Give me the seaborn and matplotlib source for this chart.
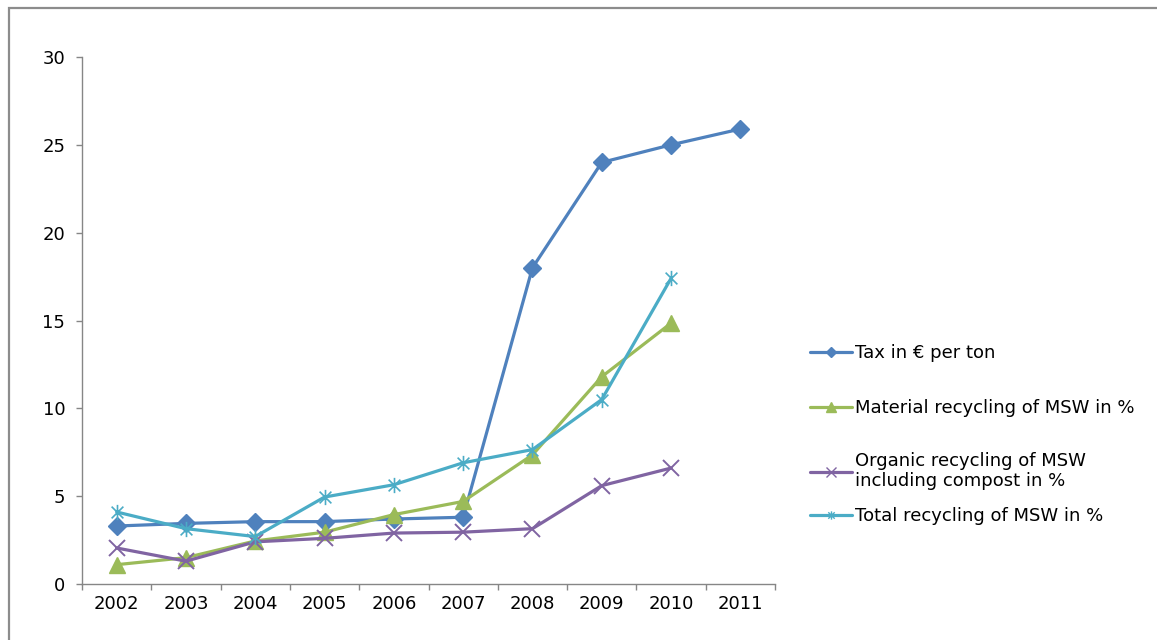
import numpy as np
import pandas as pd
import matplotlib
matplotlib.use("Agg")
import matplotlib.pyplot as plt
import seaborn as sns
from matplotlib.path import Path
from matplotlib.patches import Rectangle
from matplotlib.lines import Line2D

# Data
years = ["2002", "2003", "2004", "2005", "2006", "2007", "2008", "2009", "2010", "2011"]
tax = [3.3, 3.45, 3.55, 3.55, 3.7, 3.8, 18.0, 24.0, 25.0, 25.9]
material = [1.1, 1.5, 2.45, 2.95, 3.95, 4.7, 7.35, 11.8, 14.85]
organic = [2.05, 1.3, 2.4, 2.6, 2.9, 2.95, 3.15, 5.6, 6.6]
total = [4.1, 3.15, 2.7, 4.95, 5.65, 6.9, 7.65, 10.5, 17.4]

labels = [
    "Tax in € per ton",
    "Material recycling of MSW in %",
    "Organic recycling of MSW\nincluding compost in %",
    "Total recycling of MSW in %",
]
colors = ["#4F81BD", "#9BBB59", "#8064A2", "#4BACC6"]

# Star marker: an X crossed by a vertical stroke
star = Path(
    [(-1, -1), (1, 1), (-1, 1), (1, -1), (0, -1.3), (0, 1.3)],
    [Path.MOVETO, Path.LINETO, Path.MOVETO, Path.LINETO, Path.MOVETO, Path.LINETO],
)

sns.set_theme(style="white")
plt.rcParams["font.family"] = ["DejaVu Sans"]

fig = plt.figure(figsize=(11.57, 6.4), dpi=100)
ax = fig.add_axes([82 / 1157, 1 - 584 / 640, (775 - 82) / 1157, (584 - 57) / 640])

series = [
    (tax, "D", 9, 1.0),
    (material, "^", 11, 1.0),
    (organic, "x", 11, 1.4),
    (total, star, 11, 1.2),
]

lw = 2.3
for (vals, mk, ms, mew), col in zip(series, colors):
    df = pd.DataFrame({"x": np.arange(len(vals)), "y": vals})
    sns.lineplot(
        data=df, x="x", y="y", ax=ax, color=col, linewidth=lw,
        marker=mk, markersize=ms, markeredgewidth=mew,
        markeredgecolor=col, markerfacecolor=col, legend=False,
    )

ax.set_xlim(-0.5, len(years) - 0.5)
ax.set_ylim(0, 30)
ax.set_yticks(np.arange(0, 31, 5))
ax.set_xlabel("")
ax.set_ylabel("")

# Tick marks at category boundaries, labels centred on categories
ax.set_xticks(np.arange(-0.5, len(years), 1.0))
ax.set_xticklabels([])
ax.set_xticks(np.arange(len(years)), minor=True)
ax.set_xticklabels(years, minor=True)

axis_col = "#868686"
for side in ["top", "right"]:
    ax.spines[side].set_visible(False)
for side in ["left", "bottom"]:
    ax.spines[side].set_color(axis_col)
    ax.spines[side].set_linewidth(1.0)

fs = 13
ax.tick_params(axis="y", which="major", direction="out", length=4, width=1,
               color=axis_col, labelsize=fs, pad=8, labelcolor="#000000", left=True)
ax.tick_params(axis="x", which="major", direction="out", length=4, width=1,
               color=axis_col, bottom=True)
ax.tick_params(axis="x", which="minor", length=0, labelsize=fs, pad=8,
               labelcolor="#000000", bottom=True)
ax.grid(False)

# Legend entries, one per series, stacked on the right
legend_y = [353, 408, 471, 516]
marker_kw = [
    dict(marker="D", markersize=5),
    dict(marker="^", markersize=7),
    dict(marker="x", markersize=7, markeredgewidth=1.0),
    dict(marker=star, markersize=6, markeredgewidth=1.0),
]
for lab, col, yy, mkw in zip(labels, colors, legend_y, marker_kw):
    h = Line2D([], [], color=col, linewidth=lw, markerfacecolor=col,
               markeredgecolor=col, **mkw)
    fig.legend([h], [lab], loc="center left",
               bbox_to_anchor=(810 / 1157, 1 - yy / 640),
               frameon=False, fontsize=fs, handlelength=2.35,
               handletextpad=0.15, borderpad=0, borderaxespad=0,
               labelcolor="#000000")

# Outer chart frame
fig.patches.append(Rectangle((9 / 1157, -0.1), 1.2, 1 - 8 / 640 + 0.1,
                             transform=fig.transFigure, fill=False,
                             edgecolor="#8c8c8c", linewidth=1.6))

fig.savefig("out.png", dpi=100, facecolor="white")
